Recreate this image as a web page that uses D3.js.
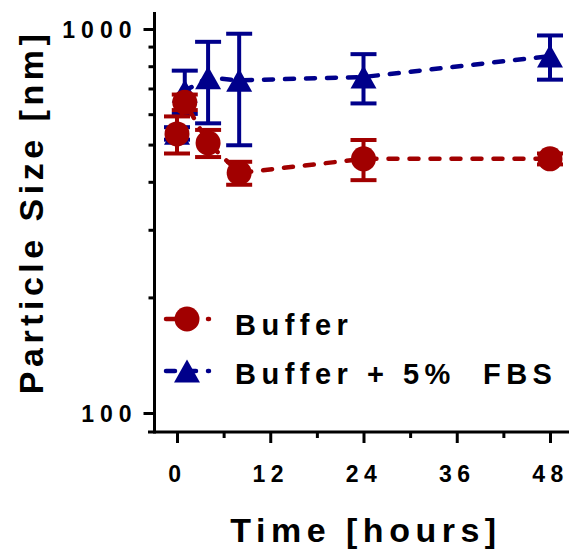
<!DOCTYPE html>
<html>
<head>
<meta charset="utf-8">
<script src="https://cdn.jsdelivr.net/npm/d3@7"></script>
<style>
  body { margin: 0; background: #fff; }
  text { font-family: "Liberation Sans", Arial, sans-serif; font-weight: bold; fill: #000; }
</style>
</head>
<body>
<div id="chart"></div>
<script>

// data (mean +/- error, nm)
var hours = [0, 1, 4, 8, 24, 48];
var bufferMean = [533, 645, 505, 422, 459, 459];
var bufferErr = [59, 30, 41, 29, 55, 15];
var fbsMean = [535, 690, 747, 735, 750, 850];
var fbsErr = [20, 89, 179, 237, 110, 112];

var xTicks = [0, 12, 24, 36, 48];
var xMinor = [6, 18, 30, 42];
var yTicks = [100, 1000];
var yMinor = [200, 300, 400, 500, 600, 700, 800, 900];

var seriesNames = ["Buffer", "Buffer + 5%\u00a0\u00a0FBS"];
var red = "#a10000";
var blue = "#00008b";

var width = 569, height = 550;

var svg = d3.select("#chart")
  .append("svg")
  .attr("width", width)
  .attr("height", height);

var x = d3.scaleLinear().domain([0, 48]).range([177, 550]);
var y = d3.scaleLog().domain([100, 1000]).range([413, 29]);

var xAxisY = 432, yAxisX = 154.5;

// x axis
var gx = svg.append("g").attr("transform", "translate(0," + xAxisY + ")");
gx.call(d3.axisBottom(x).tickValues(xTicks).tickSize(11));
gx.select(".domain").remove();
gx.selectAll("line").attr("stroke", "#000").attr("stroke-width", 3);
gx.selectAll("text")
  .attr("y", 50).attr("dy", 0)
  .style("font-size", "23px")
  .style("letter-spacing", "5.5px");

var gxm = svg.append("g").attr("transform", "translate(0," + xAxisY + ")");
gxm.call(d3.axisBottom(x).tickValues(xMinor).tickSize(6).tickFormat(""));
gxm.select(".domain").remove();
gxm.selectAll("line").attr("stroke", "#000").attr("stroke-width", 3);

svg.append("line")
  .attr("x1", 148).attr("x2", 569)
  .attr("y1", xAxisY).attr("y2", xAxisY)
  .attr("stroke", "#000").attr("stroke-width", 3);

// y axis
var gy = svg.append("g").attr("transform", "translate(" + yAxisX + ",0)");
gy.call(d3.axisLeft(y).tickValues(yTicks).tickSize(11).tickFormat(d3.format("d")));
gy.select(".domain").remove();
gy.selectAll("line").attr("stroke", "#000").attr("stroke-width", 3);
gy.selectAll("text")
  .attr("x", -17)
  .attr("dy", "0.36em")
  .style("font-size", "23px")
  .style("letter-spacing", "6px");

var gym = svg.append("g").attr("transform", "translate(" + yAxisX + ",0)");
gym.call(d3.axisLeft(y).tickValues(yMinor).tickSize(6).tickFormat(""));
gym.select(".domain").remove();
gym.selectAll("line").attr("stroke", "#000").attr("stroke-width", 3);

svg.append("line")
  .attr("x1", yAxisX).attr("x2", yAxisX)
  .attr("y1", 12).attr("y2", xAxisY + 1.5)
  .attr("stroke", "#000").attr("stroke-width", 3);

// axis titles
svg.append("text")
  .attr("x", 366)
  .attr("y", 542)
  .style("text-anchor", "middle")
  .style("font-size", "34px")
  .style("letter-spacing", "5.5px")
  .text("Time [hours]");

svg.append("text")
  .attr("transform", "translate(43,212) rotate(-90)")
  .style("text-anchor", "middle")
  .style("font-size", "34px")
  .style("letter-spacing", "4.5px")
  .text("Particle Size [nm]");

// markers
var triangle = "M0,-11.5L13,11.5L-13,11.5Z";

function drawSeries(mean, err, color, shape) {
  var pts = hours.map(function(h, i) { return {h: h, m: mean[i], e: err[i]}; });
  var g = svg.append("g");

  var eb = g.selectAll(".eb").data(pts).enter().append("g")
    .attr("stroke", color).attr("stroke-width", 4);
  eb.append("line")
    .attr("x1", function(d) { return x(d.h); })
    .attr("x2", function(d) { return x(d.h); })
    .attr("y1", function(d) { return y(d.m + d.e); })
    .attr("y2", function(d) { return y(d.m - d.e); });
  eb.append("line")
    .attr("x1", function(d) { return x(d.h) - 13; })
    .attr("x2", function(d) { return x(d.h) + 13; })
    .attr("y1", function(d) { return y(d.m + d.e); })
    .attr("y2", function(d) { return y(d.m + d.e); });
  eb.append("line")
    .attr("x1", function(d) { return x(d.h) - 13; })
    .attr("x2", function(d) { return x(d.h) + 13; })
    .attr("y1", function(d) { return y(d.m - d.e); })
    .attr("y2", function(d) { return y(d.m - d.e); });

  var line = d3.line()
    .x(function(d) { return x(d.h); })
    .y(function(d) { return y(d.m); });

  g.append("path")
    .datum(pts)
    .attr("d", line)
    .attr("fill", "none")
    .attr("stroke", color)
    .attr("stroke-width", 4.5)
    .attr("stroke-linecap", "round")
    .attr("stroke-dasharray", "9,12");

  if (shape == "circle") {
    g.selectAll(".dot").data(pts).enter().append("circle")
      .attr("cx", function(d) { return x(d.h); })
      .attr("cy", function(d) { return y(d.m); })
      .attr("r", 12.5)
      .attr("fill", color);
  } else {
    g.selectAll(".tri").data(pts).enter().append("path")
      .attr("d", triangle)
      .attr("transform", function(d) { return "translate(" + x(d.h) + "," + y(d.m) + ")"; })
      .attr("fill", color);
  }
}

drawSeries(fbsMean, fbsErr, blue, "triangle");
drawSeries(bufferMean, bufferErr, red, "circle");

// legend
var legend = [
  {name: seriesNames[0], color: red, shape: "circle", y: 319, ty: 335},
  {name: seriesNames[1], color: blue, shape: "triangle", y: 371, ty: 384}
];

legend.forEach(function(l) {
  svg.append("line")
    .attr("x1", 166).attr("x2", 209)
    .attr("y1", l.y).attr("y2", l.y)
    .attr("stroke", l.color)
    .attr("stroke-width", 4.5)
    .attr("stroke-linecap", "round")
    .attr("stroke-dasharray", "9,12");
  if (l.shape == "circle") {
    svg.append("circle").attr("cx", 187).attr("cy", l.y).attr("r", 12.5).attr("fill", l.color);
  } else {
    svg.append("path").attr("d", triangle)
      .attr("transform", "translate(187," + l.y + ")")
      .attr("fill", l.color);
  }
  svg.append("text")
    .attr("x", 235)
    .attr("y", l.ty)
    .style("font-size", "29px")
    .style("letter-spacing", "5.5px")
    .text(l.name);
});

</script>
</body>
</html>
